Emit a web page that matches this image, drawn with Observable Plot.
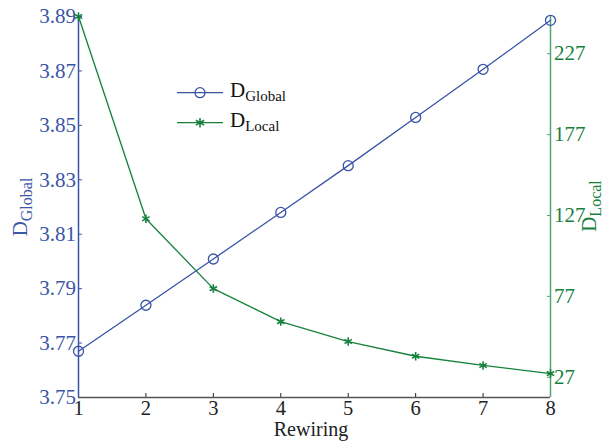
<!DOCTYPE html>
<html><head><meta charset="utf-8">
<script src="https://cdn.jsdelivr.net/npm/d3@7"></script>
<script src="https://cdn.jsdelivr.net/npm/@observablehq/plot@0.6"></script>
<style>body{margin:0;background:#fff}</style>
</head><body><div id="chart"></div>
<script>
const rewiring = [1, 2, 3, 4, 5, 6, 7, 8];
const dGlobal = [3.7670, 3.7839, 3.8009, 3.8180, 3.8352, 3.8529, 3.8706, 3.8886];
const dLocal = [250, 125, 81.8, 61.4, 49.1, 40, 34.3, 29.3];
const leftTicks = [3.75, 3.77, 3.79, 3.81, 3.83, 3.85, 3.87, 3.89];
const rightTicks = [27, 77, 127, 177, 227];
const leftDomain = [3.75, 3.89];
const rightDomain = [14.5, 250];

const toLeft = d3.scaleLinear(rightDomain, leftDomain);
const data = rewiring.map((r, i) => ({r, g: dGlobal[i], l: toLeft(dLocal[i])}));

const BLUE = "#3a52a6", BLUETXT = "#3b55a8", GREEN = "#17803d", GREENAXIS = "#4fa676", GRAY = "#555";
const FONT = "'Liberation Serif', 'Times New Roman', serif";

const chart = Plot.plot({
  width: 605, height: 442,
  marginLeft: 78, marginRight: 55, marginTop: 16, marginBottom: 45,
  style: {fontFamily: FONT, fontSize: "21px", background: "#fff"},
  x: {domain: [1, 8]},
  y: {domain: leftDomain},
  marks: [
    Plot.axisX({ticks: rewiring, tickSize: -4, tickPadding: 7, fontSize: 20.5, tickFormat: d => d, color: "#222", label: null}),
    Plot.axisY({ticks: leftTicks, tickSize: -4, tickPadding: 6.5, tickFormat: d3.format(".2f"), color: BLUETXT, label: null}),
    Plot.axisY(rightTicks.map(toLeft), {anchor: "right", tickSize: -4, tickPadding: 7.5, tickFormat: d => Math.round(toLeft.invert(d)), color: GREEN, stroke: GREENAXIS, label: null}),
    Plot.ruleY([leftDomain[0]], {stroke: GRAY, strokeWidth: 1.5}),
    Plot.ruleX([1], {stroke: BLUE, strokeWidth: 1.5}),
    Plot.ruleX([8], {stroke: GREENAXIS, strokeWidth: 1.5}),
    Plot.line(data, {x: "r", y: "g", stroke: BLUE, strokeWidth: 1.3}),
    Plot.dot(data, {x: "r", y: "g", r: 5, stroke: BLUE, strokeWidth: 1.3, fill: "none"}),
    Plot.line(data, {x: "r", y: "l", stroke: GREEN, strokeWidth: 1.3}),
    Plot.dot(data, {x: "r", y: "l", r: 4, symbol: "asterisk", stroke: GREEN, strokeWidth: 1.6})
  ]
});
document.getElementById("chart").appendChild(chart);

const svg = d3.select(chart);
function sublabel(g, main, sub, mainSize, subSize, dy) {
  g.append("tspan").attr("font-size", mainSize).text(main);
  g.append("tspan").attr("font-size", subSize).attr("dy", dy).text(sub);
}
// x label
svg.append("text").attr("x", 311).attr("y", 436).attr("text-anchor", "middle")
  .style("font-family", FONT).attr("font-size", 20).attr("fill", "#222").text("Rewiring");
// left label
const lt = svg.append("text").attr("transform", "translate(27,207) rotate(-90)")
  .attr("text-anchor", "middle").style("font-family", FONT).attr("fill", BLUETXT);
sublabel(lt, "D", "Global", 21, 16, 5);
// right label
const rt = svg.append("text").attr("transform", "translate(596,206) rotate(-90)")
  .attr("text-anchor", "middle").style("font-family", FONT).attr("fill", GREEN);
sublabel(rt, "D", "Local", 21, 16, 5);
// legend
const legend = [
  {name: "Global", color: BLUE, symbol: d3.symbolCircle, y: 92.7, size: Math.PI * 25},
  {name: "Local", color: GREEN, symbol: d3.symbolAsterisk, y: 122.7, size: 64}
];
const lg = svg.append("g");
legend.forEach(e => {
  lg.append("line").attr("x1", 177).attr("x2", 223).attr("y1", e.y).attr("y2", e.y)
    .attr("stroke", e.color).attr("stroke-width", 1.3);
  lg.append("path").attr("transform", `translate(200,${e.y})`).attr("d", d3.symbol(e.symbol, e.size)())
    .attr("stroke", e.color).attr("fill", "none").attr("stroke-width", e.symbol === d3.symbolCircle ? 1.3 : 1.6);
  const t = lg.append("text").attr("x", 230).attr("y", e.y + 4.6).attr("text-anchor", "start")
    .style("font-family", FONT).attr("fill", "#111");
  sublabel(t, "D", e.name, 21, 15, 3.5);
});
</script>
</body></html>
